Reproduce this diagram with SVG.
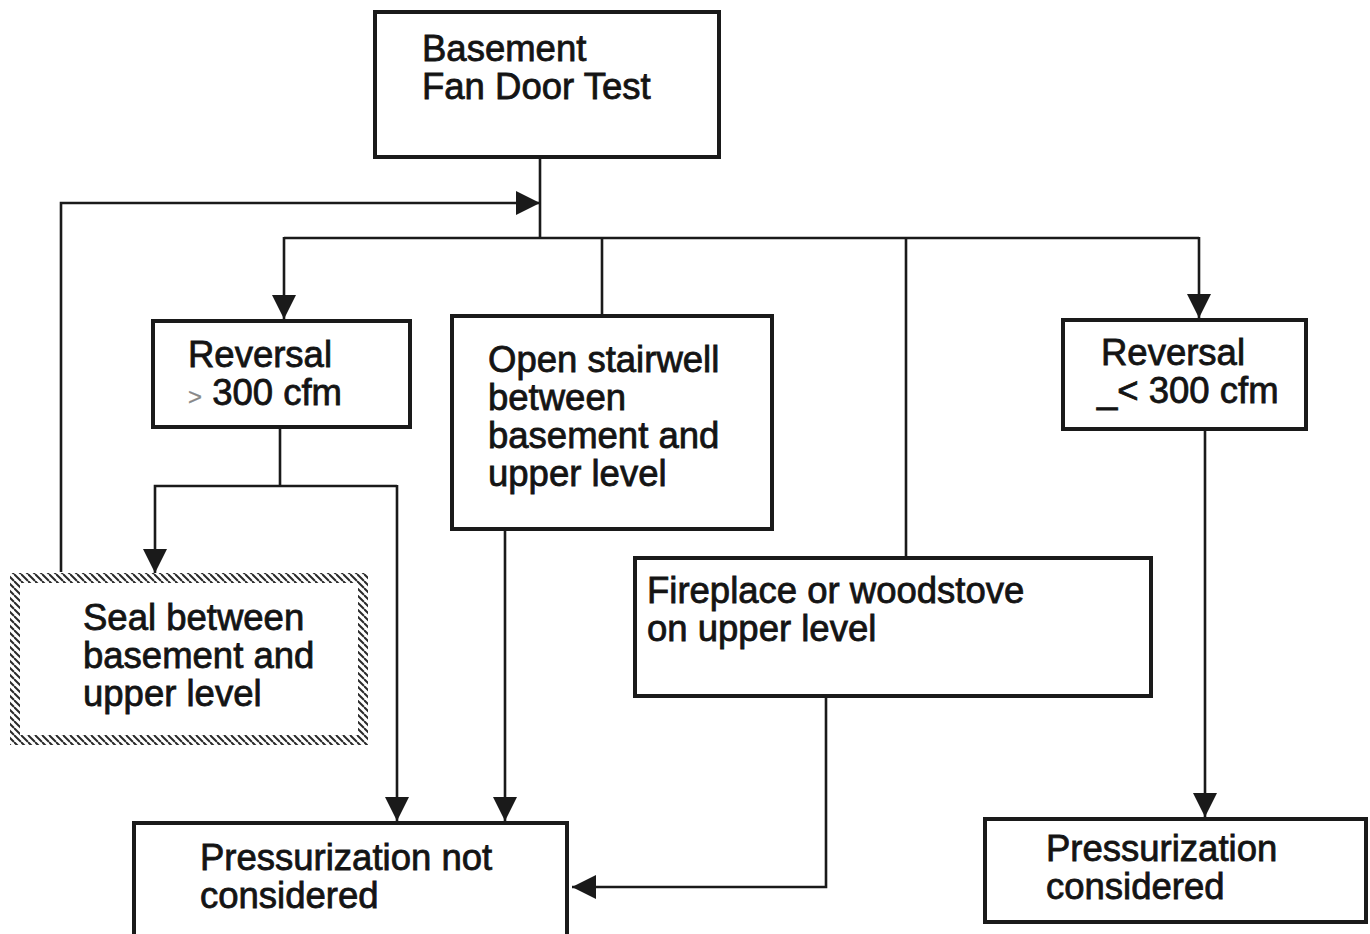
<svg xmlns="http://www.w3.org/2000/svg" width="1370" height="934" viewBox="0 0 1370 934">
<style>
.box{fill:#fff;stroke:#1a1a1a;stroke-width:4}
.t{font-family:"Liberation Sans",Arial,sans-serif;font-size:36.5px;fill:#141414;stroke:#141414;stroke-width:0.8}
.c{fill:none;stroke:#1a1a1a;stroke-width:2.6}
</style>
<defs>
<marker id="ah" markerUnits="userSpaceOnUse" markerWidth="24" markerHeight="24" refX="22" refY="11" orient="auto" viewBox="0 0 22 22">
<path d="M0,0 L22,11 L0,22 z" fill="#1a1a1a"/>
</marker>
<pattern id="hatch" patternUnits="userSpaceOnUse" width="7" height="7">
<rect width="7" height="7" fill="#fff"/>
<path d="M-1,-1 L8,8 M-4,3 L0,7 M3,-4 L7,0" stroke="#2a2a2a" stroke-width="2"/>
</pattern>
</defs>
<rect width="1370" height="934" fill="#fff"/>
<g id="connectors">
<line class="c" x1="540" y1="157" x2="540" y2="238"/>
<polyline class="c" points="61,572 61,203 540,203" marker-end="url(#ah)"/>
<line class="c" x1="284" y1="238" x2="1199" y2="238"/>
<line class="c" x1="284" y1="237" x2="284" y2="319" marker-end="url(#ah)"/>
<line class="c" x1="602" y1="238" x2="602" y2="314"/>
<line class="c" x1="906" y1="238" x2="906" y2="556"/>
<line class="c" x1="1199" y1="237" x2="1199" y2="318" marker-end="url(#ah)"/>
<line class="c" x1="280" y1="428" x2="280" y2="486"/>
<polyline class="c" points="397,486 155,486 155,573" marker-end="url(#ah)"/>
<line class="c" x1="397" y1="485" x2="397" y2="821" marker-end="url(#ah)"/>
<line class="c" x1="505" y1="531" x2="505" y2="821" marker-end="url(#ah)"/>
<polyline class="c" points="826,698 826,887 572,887" marker-end="url(#ah)"/>
<line class="c" x1="1205" y1="431" x2="1205" y2="817" marker-end="url(#ah)"/>
</g>
<g id="n-basement">
<rect class="box" x="375" y="12" width="344" height="145"/>
<text class="t" x="422" y="61" font-size="37">Basement</text>
<text class="t" x="422" y="99" font-size="37">Fan Door Test</text>
</g>
<g id="n-rev-gt">
<rect class="box" x="153" y="321" width="257" height="106"/>
<text class="t" x="188" y="367">Reversal</text>
<text class="t" x="188" y="405"><tspan fill="#888" stroke="#888" stroke-width="0.3" font-size="24">&gt;</tspan> 300 cfm</text>
</g>
<g id="n-stairwell">
<rect class="box" x="452" y="316" width="320" height="213"/>
<text class="t" x="488" y="372">Open stairwell</text>
<text class="t" x="488" y="410">between</text>
<text class="t" x="488" y="448">basement and</text>
<text class="t" x="488" y="486">upper level</text>
</g>
<g id="n-rev-le">
<rect class="box" x="1063" y="320" width="243" height="109"/>
<text class="t" x="1101" y="365">Reversal</text>
<text class="t" x="1097" y="403">_&lt; 300 cfm</text>
</g>
<g id="n-seal">
<rect x="15" y="578" width="348" height="162" fill="#fff" stroke="url(#hatch)" stroke-width="10"/>
<text class="t" x="83" y="630">Seal between</text>
<text class="t" x="83" y="668">basement and</text>
<text class="t" x="83" y="706">upper level</text>
</g>
<g id="n-fireplace">
<rect class="box" x="635" y="558" width="516" height="138"/>
<text class="t" x="647" y="603">Fireplace or woodstove</text>
<text class="t" x="647" y="641">on upper level</text>
</g>
<g id="n-not-considered">
<rect class="box" x="134" y="823" width="433" height="120"/>
<text class="t" x="200" y="870">Pressurization not</text>
<text class="t" x="200" y="908">considered</text>
</g>
<g id="n-considered">
<rect class="box" x="985" y="819" width="381" height="103"/>
<text class="t" x="1046" y="861">Pressurization</text>
<text class="t" x="1046" y="899">considered</text>
</g>
</svg>
